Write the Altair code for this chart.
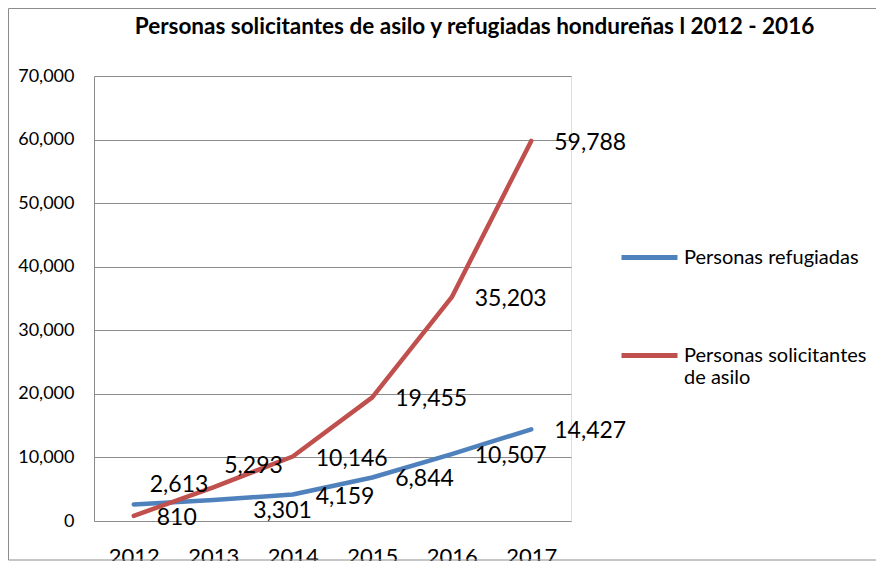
import altair as alt
import pandas as pd

# ---- data ----
years = ["2012", "2013", "2014", "2015", "2016", "2017"]
refugiadas = [2613, 3301, 4159, 6844, 10507, 14427]
solicitantes = [810, 5293, 10146, 19455, 35203, 59788]
series_names = ["Personas refugiadas", "Personas solicitantes de asilo"]
series_colors = ["#4F81BD", "#C0504D"]
y_ticks = [0, 10000, 20000, 30000, 40000, 50000, 60000, 70000]
title_text = "Personas solicitantes de asilo y refugiadas hondureñas l 2012 - 2016"

rows = []
for s, vals in zip(series_names, [refugiadas, solicitantes]):
    for y, v in zip(years, vals):
        rows.append({"year": y, "value": v, "series": s})
df = pd.DataFrame(rows)

FONT = "Lato"
GRID = "#8C8C8C"

x_enc = alt.X("year:O", scale=alt.Scale(type="point", padding=0.5),
              axis=alt.Axis(title=None, labelAngle=0, ticks=False, domain=False,
                            grid=False, labelFontSize=22, labelColor="#000000",
                            labelBaseline="alphabetic", labelPadding=42,
                            labelFont=FONT))
y_enc = alt.Y("value:Q", scale=alt.Scale(domain=[0, 70000], nice=False),
              axis=alt.Axis(title=None, values=y_ticks, format=",.0f", ticks=False,
                            domain=True, domainColor=GRID, gridColor=GRID,
                            gridWidth=1, labelFontSize=18, labelColor="#000000",
                            labelPadding=20, labelFont=FONT))

base = alt.Chart(df)

legend = alt.Legend(
    title=None, orient="none", legendX=525, legendY=151,
    symbolType="stroke", symbolSize=3136, symbolStrokeWidth=5,
    labelFontSize=20, labelFont=FONT, labelColor="#000000",
    labelOffset=4, rowPadding=57, padding=0, labelLimit=400,
    labelExpr="datum.label == 'Personas solicitantes de asilo' ? ['Personas solicitantes', 'de asilo'] : datum.label",
)

lines = base.mark_line(strokeWidth=4.5, strokeCap="round", strokeJoin="round").encode(
    x=x_enc, y=y_enc,
    color=alt.Color("series:N", scale=alt.Scale(domain=series_names, range=series_colors),
                    legend=legend),
    detail="series:N",
)

# data label nudges (style): default to the right of the point, a few moved as in the source
default_nudge = (23, 2)
nudges = {
    ("Personas refugiadas", "2012"): (16, -19),
    ("Personas refugiadas", "2013"): (40, 11),
    ("Personas solicitantes de asilo", "2013"): (11, -21),
}

def text_layer(dx, dy, flt):
    return base.mark_text(align="left", baseline="middle", fontSize=23, font=FONT,
                          color="#000000", dx=dx, dy=dy).encode(
        x=alt.X("year:O", scale=alt.Scale(type="point", padding=0.5)),
        y=alt.Y("value:Q"),
        text=alt.Text("value:Q", format=","),
    ).transform_filter(flt)

special = " || ".join(f"(datum.series == '{s}' && datum.year == '{y}')" for (s, y) in nudges)
label_layers = [text_layer(default_nudge[0], default_nudge[1], f"!({special})")]
for (s, y), (dx, dy) in nudges.items():
    label_layers.append(text_layer(dx, dy, f"datum.series == '{s}' && datum.year == '{y}'"))

frame = alt.Chart(pd.DataFrame({"f": [0]})).mark_rect(
    fill=None, stroke=GRID, strokeWidth=1).encode(
    x=alt.value(-85.5), x2=alt.value(800), y=alt.value(-67.5), y2=alt.value(484))

chart = alt.layer(frame, lines, *label_layers).properties(
    width=477, height=445,
    title=alt.TitleParams(title_text, font=FONT, fontSize=22.5, fontWeight="bold",
                          anchor="middle", frame="group", dx=142, offset=-53,
                          baseline="bottom", color="#000000"),
    autosize=alt.AutoSizeParams(type="none"),
    padding={"left": 86, "top": 68, "right": 305, "bottom": 40},
).configure_view(stroke=None).configure(font=FONT)

chart.save("out.html", embed_options={"renderer": "svg", "actions": False})
